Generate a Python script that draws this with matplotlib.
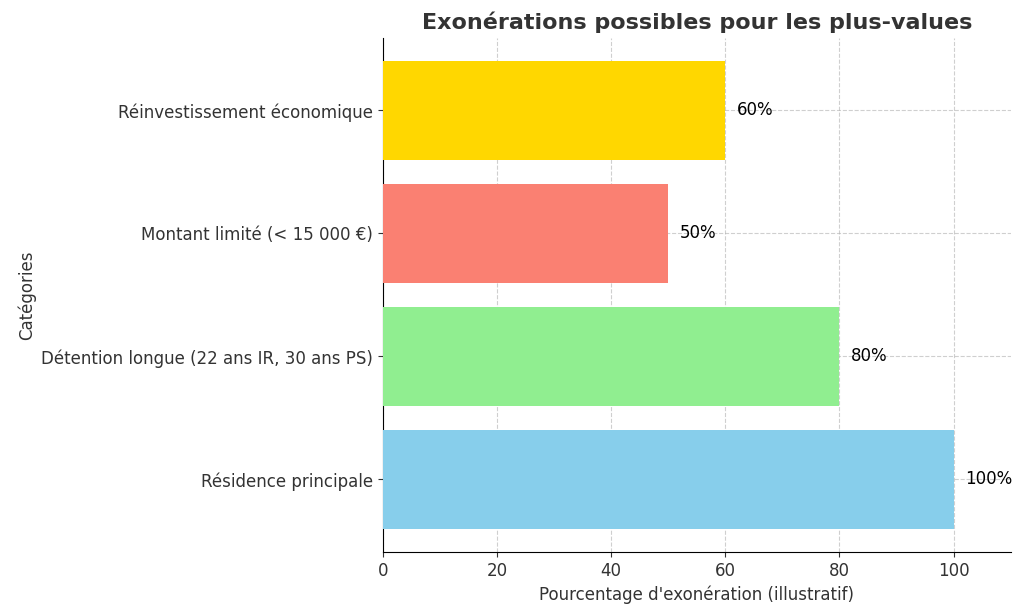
import matplotlib
matplotlib.use("Agg")
import matplotlib.pyplot as plt

categories = [
    "Résidence principale",
    "Détention longue (22 ans IR, 30 ans PS)",
    "Montant limité (< 15 000 €)",
    "Réinvestissement économique",
]
values = [100, 80, 50, 60]
colors = ["skyblue", "lightgreen", "salmon", "gold"]

fig = plt.figure(figsize=(10.24, 6.08), dpi=100)
ax = fig.add_axes([0.374, 0.092, 0.613, 0.846])

bars = ax.barh(categories, values, color=colors, height=0.8, zorder=3)
for bar, v in zip(bars, values):
    ax.text(bar.get_width() + 2, bar.get_y() + bar.get_height() / 2, f"{v}%",
            va="center", ha="left", fontsize=12, color="black")

ax.set_xlim(0, 110)
ax.set_xticks([0, 20, 40, 60, 80, 100])
ax.grid(True, linestyle="--", alpha=0.6, zorder=0)
ax.spines["top"].set_visible(False)
ax.spines["right"].set_visible(False)
ax.tick_params(labelsize=12, colors="#333333")
ax.set_xlabel("Pourcentage d'exonération (illustratif)", fontsize=12, color="#333333")
ax.set_ylabel("Catégories", fontsize=12, color="#333333")
ax.set_title("Exonérations possibles pour les plus-values", fontsize=16,
             fontweight="bold", color="#333333")

fig.savefig("out.png", dpi=100)
